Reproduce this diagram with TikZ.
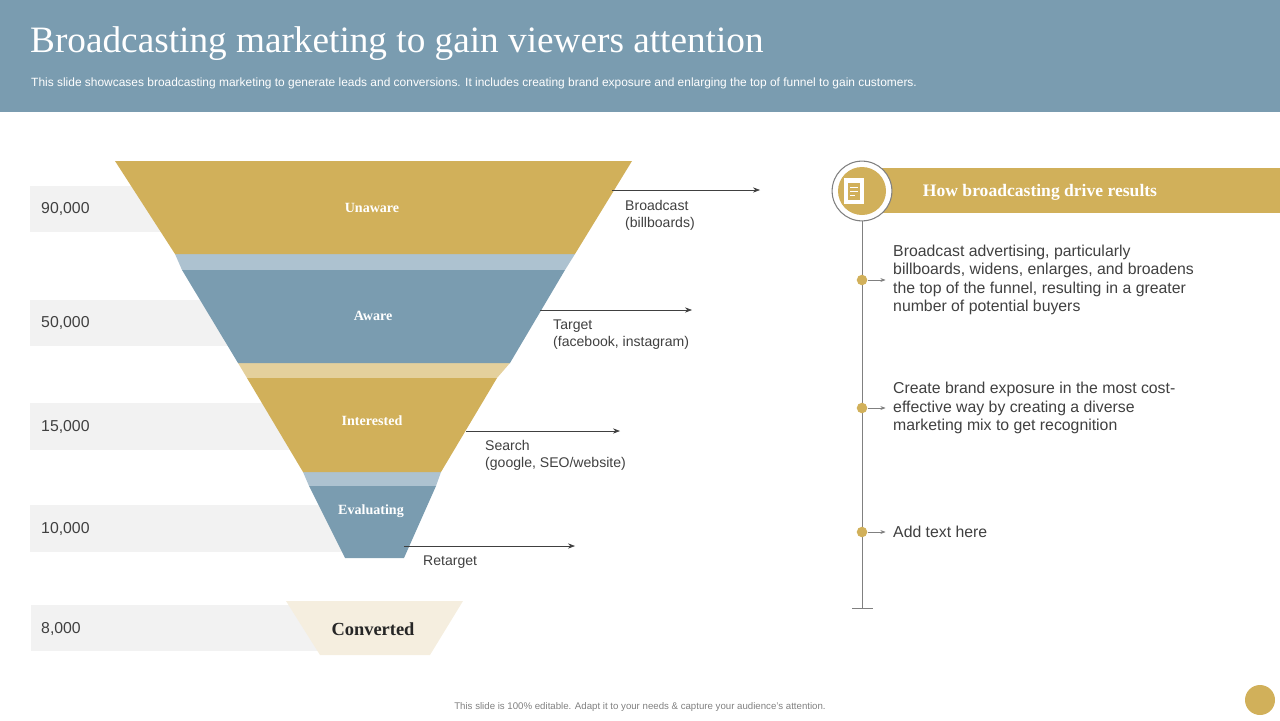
\documentclass[tikz,border=0pt]{standalone}
\usepackage{fontspec}
\setmainfont{Liberation Serif}
\setsansfont{Liberation Sans}
\usetikzlibrary{arrows.meta}
\definecolor{slate}{HTML}{7A9CB0}
\definecolor{lightslate}{HTML}{ADC2D0}
\definecolor{gold}{HTML}{D1B05A}
\definecolor{lightgold}{HTML}{E4D09C}
\definecolor{cream}{HTML}{F5EEDF}
\definecolor{barg}{HTML}{F2F2F2}
\definecolor{txt}{HTML}{404040}
\tikzset{
  stage/.style={font=\rmfamily\bfseries\fontsize{8}{9}\selectfont,text=white},
  num/.style={anchor=west,font=\sffamily\fontsize{9}{10}\selectfont,text=txt},
  chan/.style={anchor=north west,align=left,font=\sffamily\fontsize{8}{9.5}\selectfont,text=txt},
  point/.style={anchor=west,align=left,font=\sffamily\fontsize{9}{10.5}\selectfont,text=txt},
  bullet/.style={circle,fill=gold,inner sep=0pt,minimum size=6pt}
}
\begin{document}
\begin{tikzpicture}[x=0.02cm,y=-0.02cm]
    \useasboundingbox (0,0) rectangle (1280,720);
    % header
    \fill[slate] (0,0) rectangle (1280,112);
    \node[anchor=west,text=white,font=\rmfamily\fontsize{21.2}{23}\selectfont] (title) at (24,44) {Broadcasting marketing to gain viewers attention};
    \node[anchor=west,text=white,font=\sffamily\fontsize{6.8}{8}\selectfont] (sub) at (25,83) {This slide showcases broadcasting marketing to generate leads and conversions. It includes creating brand exposure and enlarging the top of funnel to gain customers.};
    % value bars
    \fill[barg] (30,186) rectangle (330,232);
    \fill[barg] (30,300) rectangle (330,346);
    \fill[barg] (30,403) rectangle (330,450);
    \fill[barg] (30,505) rectangle (350,552);
    \fill[barg] (31,605) rectangle (320,651);
    \node[num] (n1) at (35,209) {90,000};
    \node[num] (n2) at (35,323) {50,000};
    \node[num] (n3) at (35,427) {15,000};
    \node[num] (n4) at (35,529) {10,000};
    \node[num] (n5) at (35,629) {8,000};
    % funnel
    \fill[lightslate] (175,254) -- (575,254) -- (565,270) -- (182,270) -- cycle;
    \fill[lightgold] (238,363) -- (510,363) -- (497,378) -- (247,378) -- cycle;
    \fill[lightslate] (303,472) -- (441,472) -- (436,486) -- (309,486) -- cycle;
    \fill[gold] (115,161) -- (632,161) -- (575,254) -- (175,254) -- cycle;
    \fill[slate] (182,270) -- (565,270) -- (510,363) -- (238,363) -- cycle;
    \fill[gold] (247,378) -- (497,378) -- (441,472) -- (303,472) -- cycle;
    \fill[slate] (309,486) -- (436,486) -- (404,558) -- (345,558) -- cycle;
    \fill[cream] (286,601) -- (463,601) -- (430,655) -- (320,655) -- cycle;
    \node[stage] (unaware) at (372,208) {Unaware};
    \node[stage] (aware) at (373,316) {Aware};
    \node[stage] (interested) at (372,421) {Interested};
    \node[stage] (evaluating) at (371,511) {Evaluating};
    \node[font=\rmfamily\bfseries\fontsize{10.5}{12}\selectfont,text=black!85] (converted) at (373,629) {Converted};
    % channels
    \coordinate (a1) at (612,190); \coordinate (b1) at (760,190);
    \coordinate (a2) at (540,310); \coordinate (b2) at (692,310);
    \coordinate (a3) at (466,431); \coordinate (b3) at (620,431);
    \coordinate (a4) at (404,546); \coordinate (b4) at (575,546);
    \foreach \i in {1,...,4}
      \draw[txt,-{Stealth[length=4pt]}] (a\i) -- (b\i);
    \node[chan] (c1) at (619,194) {Broadcast\\(billboards)};
    \node[chan] (c2) at (547,314) {Target\\(facebook, instagram)};
    \node[chan] (c3) at (479,434) {Search\\(google, SEO/website)};
    \node[chan] (c4) at (417,550) {Retarget};
    % results panel
    \fill[gold] (880,168) rectangle (1280,213);
    \node[text=white,font=\rmfamily\bfseries\fontsize{10}{12}\selectfont] (head) at (1040,192) {How broadcasting drive results};
    \coordinate (top) at (862,221);
    \coordinate (bot) at (862,608);
    \draw[gray] (top) -- (bot);
    \draw[gray] (852,608) -- (873,608);
    \node[circle,draw=gray,fill=white,minimum size=60pt*0.567,line width=0.6pt] (ring) at (862,191) {};
    \fill[gold] (862,191) circle (24);
    \fill[white] (844,178) rectangle (864,204);
    \fill[gold] (848,183) rectangle (860,200);
    \draw[white,line width=0.5pt] (850,187) -- (858,187) (850,191) -- (858,191) (850,195) -- (855,195);
    \foreach \y/\t in {280/{Broadcast advertising, particularly\\billboards, widens, enlarges, and broadens\\the top of the funnel, resulting in a greater\\number of potential buyers},
                       408/{Create brand exposure in the most cost-\\effective way by creating a diverse\\marketing mix to get recognition},
                       532/{Add text here}} {
      \node[bullet] (d\y) at (862,\y) {};
      \draw[gray,-{Stealth[length=3pt]}] (d\y.east) -- ++(18,0);
      \node[point] (p\y) at (887,\y) {\t};
    }
    % footer
    \node[font=\sffamily\fontsize{5.5}{6}\selectfont,text=gray] (foot) at (640,707) {This slide is 100\% editable.  Adapt it to your needs \& capture your audience's attention.};
    \fill[gold] (1260,700) circle (15);
\end{tikzpicture}
\end{document}
